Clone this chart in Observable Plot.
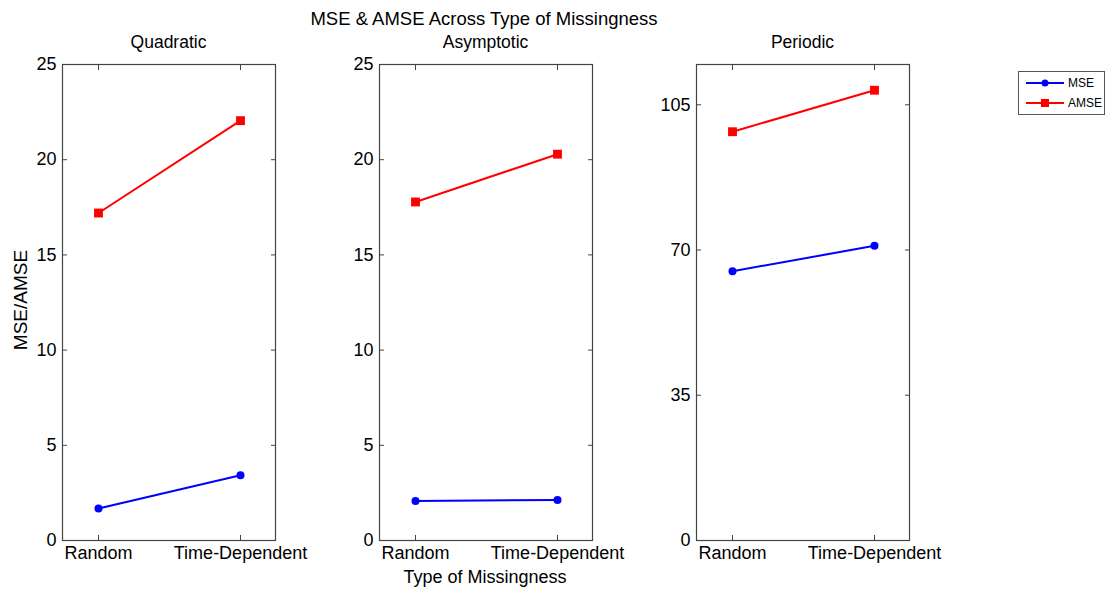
<!DOCTYPE html>
<html>
<head>
<meta charset="utf-8">
<script src="https://cdn.jsdelivr.net/npm/d3@7"></script>
<script src="https://cdn.jsdelivr.net/npm/@observablehq/plot@0.6"></script>
<style>
  html, body { margin: 0; padding: 0; background: #fff; }
  #fig { position: relative; width: 1112px; height: 592px; font-family: "Liberation Sans", Arial, sans-serif; color: #000; }
  .txt { position: absolute; white-space: nowrap; transform: translate(-50%, -50%); }
  .panel { position: absolute; top: 0; }
  #legend { position: absolute; left: 1018px; top: 71px; width: 85px; height: 42px; border: 1px solid #555; background: #fff; }
  #legend .row { position: absolute; left: 0; height: 20px; display: flex; align-items: center; font-size: 12px; }
  #legend svg { display: block; margin-left: 7px; margin-right: 4px; }
</style>
</head>
<body>
<div id="fig">
  <div class="txt" style="left:484px; top:19px; font-size:18.5px;">MSE &amp; AMSE Across Type of Missingness</div>
  <div class="txt" style="left:21px; top:300px; font-size:19px; transform: translate(-50%, -50%) rotate(-90deg);">MSE/AMSE</div>
  <div class="txt" style="left:485px; top:577px; font-size:18px;">Type of Missingness</div>
  <div id="legend"></div>
</div>
<script>
// Missingness types on the x axis and the three simulated curve shapes
const categories = ["Random", "Time-Dependent"];
const panelNames = ["Quadratic", "Asymptotic", "Periodic"];
const seriesNames = ["MSE", "AMSE"];
const seriesColors = ["#0000ff", "#ff0000"];

// Error values per panel: [Random, Time-Dependent]
const mseValues = [[1.68, 3.43], [2.08, 2.13], [64.9, 71.0]];
const amseValues = [[17.2, 22.05], [17.78, 20.29], [98.5, 108.5]];

// y-axis extents and tick values per panel
const yMax = [25, 25, 114.7];
const yTicks = [[0, 5, 10, 15, 20, 25], [0, 5, 10, 15, 20, 25], [0, 35, 70, 105]];

// horizontal placement of each axes box
const frameLeft = [62, 379, 696];
const frameWidth = 213;
const mLeft = 50, mRight = 12;

const fig = document.getElementById("fig");
const axisColor = "#444";
const noLabel = () => "";

panelNames.forEach((name, i) => {
  const rows = [];
  categories.forEach((c, j) => {
    rows.push({type: c, series: "MSE", value: mseValues[i][j]});
    rows.push({type: c, series: "AMSE", value: amseValues[i][j]});
  });

  const chart = Plot.plot({
    width: frameWidth + mLeft + mRight,
    height: 592,
    marginLeft: mLeft,
    marginRight: mRight,
    marginTop: 64,
    marginBottom: 52,
    style: {fontFamily: '"Liberation Sans", Arial, sans-serif', fontSize: "18px", color: "#000", background: "transparent", overflow: "visible"},
    x: {type: "point", domain: categories, padding: 0.25, axis: null},
    y: {domain: [0, yMax[i]], axis: null},
    color: {domain: seriesNames, range: seriesColors},
    marks: [
      Plot.frame({stroke: axisColor, strokeWidth: 1.2}),
      // tick labels
      Plot.axisY({anchor: "left", ticks: yTicks[i], tickSize: 0, tickPadding: 6, label: null, fontSize: 18}),
      Plot.axisX({anchor: "bottom", tickSize: 0, tickPadding: 6, label: null, fontSize: 18}),
      // inward tick marks on all four sides
      Plot.axisY({anchor: "left", ticks: yTicks[i], tickSize: -5, tickFormat: noLabel, label: null, stroke: axisColor}),
      Plot.axisY({anchor: "right", ticks: yTicks[i], tickSize: -5, tickFormat: noLabel, label: null, stroke: axisColor}),
      Plot.axisX({anchor: "bottom", tickSize: -5, tickFormat: noLabel, label: null, stroke: axisColor}),
      Plot.axisX({anchor: "top", tickSize: -5, tickFormat: noLabel, label: null, stroke: axisColor}),
      // series lines and markers
      Plot.line(rows, {x: "type", y: "value", z: "series", stroke: "series", strokeWidth: 2}),
      Plot.dot(rows.filter(d => d.series === "MSE"), {x: "type", y: "value", fill: "series", r: 4, symbol: "circle"}),
      Plot.dot(rows.filter(d => d.series === "AMSE"), {x: "type", y: "value", fill: "series", r: 5, symbol: "square"})
    ]
  });

  const wrap = document.createElement("div");
  wrap.className = "panel";
  wrap.style.left = (frameLeft[i] - mLeft) + "px";
  wrap.appendChild(chart);
  fig.appendChild(wrap);

  const title = document.createElement("div");
  title.className = "txt";
  title.style.left = (frameLeft[i] + frameWidth / 2) + "px";
  title.style.top = "42px";
  title.style.fontSize = "17.5px";
  title.textContent = name;
  fig.appendChild(title);
});

// legend entries: line with marker, then the series name
const legend = document.getElementById("legend");
seriesNames.forEach((s, k) => {
  const row = document.createElement("div");
  row.className = "row";
  row.style.top = (1 + k * 20) + "px";
  const marker = k === 0
    ? `<circle cx="19" cy="6" r="3.5" fill="${seriesColors[k]}"/>`
    : `<rect x="15" y="2" width="8" height="8" fill="${seriesColors[k]}"/>`;
  row.innerHTML = `<svg width="38" height="12"><line x1="0" x2="38" y1="6" y2="6" stroke="${seriesColors[k]}" stroke-width="2"/>${marker}</svg><span>${s}</span>`;
  legend.appendChild(row);
});
</script>
</body>
</html>
